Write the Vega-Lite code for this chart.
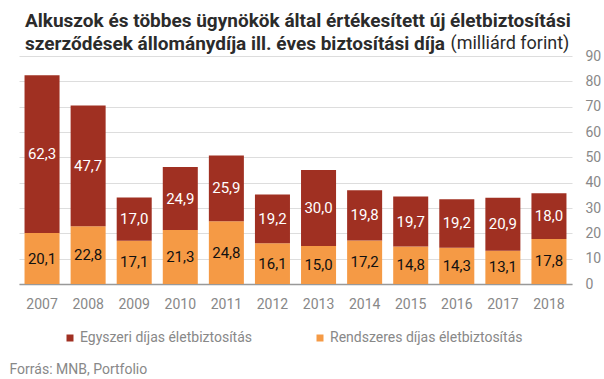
{
  "$schema": "https://vega.github.io/schema/vega-lite/v6.json",
  "width": 553,
  "height": 228,
  "autosize": {"type": "none"},
  "padding": {"left": 19, "top": 56, "right": 32, "bottom": 95},
  "background": "white",
  "title": {
    "text": ["Alkuszok és többes ügynökök által értékesített új életbiztosítási", "szerződések állománydíja ill. éves biztosítási díja"],
    "anchor": "start",
    "frame": "group",
    "align": "left",
    "baseline": "alphabetic",
    "dx": 6,
    "dy": 43,
    "offset": 8,
    "lineHeight": 23,
    "font": "Roboto",
    "fontSize": 19,
    "fontWeight": "bold",
    "color": "#2b2b2b"
  },
  "data": {
    "values": [
      {"year": "2007", "type": "Rendszeres díjas életbiztosítás", "value": 20.1},
      {"year": "2007", "type": "Egyszeri díjas életbiztosítás", "value": 62.3},
      {"year": "2008", "type": "Rendszeres díjas életbiztosítás", "value": 22.8},
      {"year": "2008", "type": "Egyszeri díjas életbiztosítás", "value": 47.7},
      {"year": "2009", "type": "Rendszeres díjas életbiztosítás", "value": 17.1},
      {"year": "2009", "type": "Egyszeri díjas életbiztosítás", "value": 17.0},
      {"year": "2010", "type": "Rendszeres díjas életbiztosítás", "value": 21.3},
      {"year": "2010", "type": "Egyszeri díjas életbiztosítás", "value": 24.9},
      {"year": "2011", "type": "Rendszeres díjas életbiztosítás", "value": 24.8},
      {"year": "2011", "type": "Egyszeri díjas életbiztosítás", "value": 25.9},
      {"year": "2012", "type": "Rendszeres díjas életbiztosítás", "value": 16.1},
      {"year": "2012", "type": "Egyszeri díjas életbiztosítás", "value": 19.2},
      {"year": "2013", "type": "Rendszeres díjas életbiztosítás", "value": 15.0},
      {"year": "2013", "type": "Egyszeri díjas életbiztosítás", "value": 30.0},
      {"year": "2014", "type": "Rendszeres díjas életbiztosítás", "value": 17.2},
      {"year": "2014", "type": "Egyszeri díjas életbiztosítás", "value": 19.8},
      {"year": "2015", "type": "Rendszeres díjas életbiztosítás", "value": 14.8},
      {"year": "2015", "type": "Egyszeri díjas életbiztosítás", "value": 19.7},
      {"year": "2016", "type": "Rendszeres díjas életbiztosítás", "value": 14.3},
      {"year": "2016", "type": "Egyszeri díjas életbiztosítás", "value": 19.2},
      {"year": "2017", "type": "Rendszeres díjas életbiztosítás", "value": 13.1},
      {"year": "2017", "type": "Egyszeri díjas életbiztosítás", "value": 20.9},
      {"year": "2018", "type": "Rendszeres díjas életbiztosítás", "value": 17.8},
      {"year": "2018", "type": "Egyszeri díjas életbiztosítás", "value": 18.0}
    ]
  },
  "encoding": {
    "x": {
      "field": "year",
      "type": "nominal",
      "scale": {"paddingInner": 0.24, "paddingOuter": 0.12},
      "axis": {
        "labelAngle": 0,
        "ticks": false,
        "tickSize": 0,
        "labelPadding": 13,
        "labelFont": "Roboto",
        "labelFontSize": 14,
        "labelColor": "#888888",
        "domainColor": "#999999",
        "domainWidth": 1.5,
        "grid": false,
        "title": "Forrás: MNB, Portfolio",
        "titleX": -10,
        "titleY": 89,
        "titleAlign": "left",
        "titleAnchor": "start",
        "titleBaseline": "alphabetic",
        "titleFont": "Roboto",
        "titleFontSize": 14,
        "titleFontWeight": "normal",
        "titleColor": "#888888"
      }
    },
    "y": {
      "field": "value",
      "type": "quantitative",
      "stack": "zero",
      "scale": {"domain": [0, 90], "nice": false},
      "axis": {
        "orient": "right",
        "values": [0, 10, 20, 30, 40, 50, 60, 70, 80, 90],
        "domain": false,
        "ticks": false,
        "labelPadding": 13,
        "labelAlign": "left",
        "labelFont": "Roboto",
        "labelFontSize": 14,
        "labelColor": "#888888",
        "gridColor": "#dddddd",
        "gridWidth": 1,
        "title": "(milliárd forint)",
        "titleAngle": 0,
        "titleX": -122,
        "titleY": -8,
        "titleAlign": "left",
        "titleBaseline": "alphabetic",
        "titleLimit": 400,
        "titleFont": "Roboto",
        "titleFontSize": 18,
        "titleFontWeight": "normal",
        "titleColor": "#2b2b2b"
      }
    },
    "order": {"field": "type", "sort": "descending"}
  },
  "layer": [
    {
      "mark": {"type": "bar"},
      "encoding": {
        "color": {
          "field": "type",
          "type": "nominal",
          "scale": {
            "domain": ["Egyszeri díjas életbiztosítás", "Rendszeres díjas életbiztosítás"],
            "range": ["#A03022", "#F59A45"]
          },
          "legend": {
            "title": null,
            "orient": "none",
            "direction": "horizontal",
            "legendX": 44,
            "legendY": 275,
            "symbolType": "square",
            "symbolSize": 49,
            "symbolStrokeWidth": 0,
            "symbolOpacity": 1,
            "labelOffset": 3,
            "labelLimit": 400,
            "columnPadding": 60,
            "labelFont": "Roboto",
            "labelFontSize": 14,
            "labelColor": "#888888"
          }
        }
      }
    },
    {
      "mark": {"type": "text", "font": "Roboto", "fontSize": 15, "baseline": "middle", "align": "center"},
      "encoding": {
        "y": {"field": "value", "type": "quantitative", "stack": "zero", "bandPosition": 0.5},
        "text": {"field": "value", "type": "quantitative", "format": ".1f"},
        "color": {
          "field": "type",
          "type": "nominal",
          "scale": {
            "domain": ["Egyszeri díjas életbiztosítás", "Rendszeres díjas életbiztosítás"],
            "range": ["#ffffff", "#111111"]
          },
          "legend": null
        }
      }
    }
  ],
  "resolve": {"scale": {"color": "independent"}},
  "config": {
    "view": {"stroke": null},
    "locale": {"number": {"decimal": ",", "thousands": " ", "grouping": [3], "currency": ["", " Ft"]}}
  }
}
